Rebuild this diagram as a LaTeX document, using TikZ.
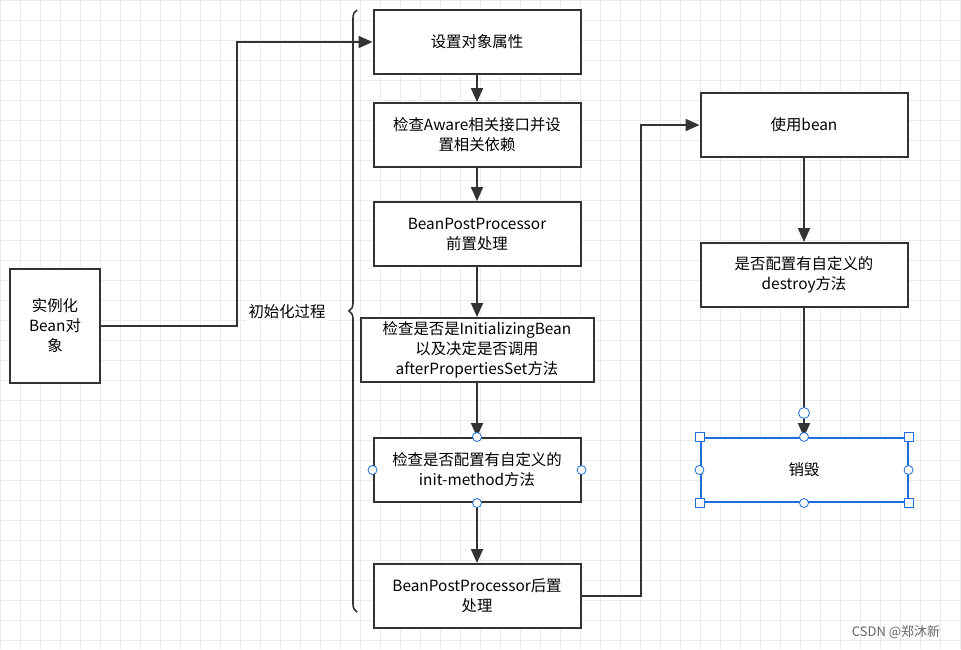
\documentclass[tikz,border=0pt]{standalone}
\usepackage{fontspec}
\setmainfont{Noto Sans CJK SC}
\usetikzlibrary{positioning,decorations.pathreplacing,arrows.meta}
\definecolor{ink}{HTML}{333333}
\definecolor{sel}{HTML}{1E6FD9}
\begin{document}
\begin{tikzpicture}[x=0.5pt, y=-0.5pt,
  box/.style={draw=ink, line width=1pt, fill=white, align=center, font=\fontsize{7.7}{10}\selectfont,
    minimum width=103.5pt, minimum height=32pt, inner sep=1pt},
  arr/.style={-{Triangle[length=7pt,width=6pt]}, draw=ink, line width=1pt},
  handle/.style={draw=sel, fill=white, line width=0.4pt, inner sep=0pt}]

  \useasboundingbox (0,0) rectangle (961,649);
  \fill[white] (0,0) rectangle (961,649);
  % background grid
  \foreach \gx in {0,20,...,960} \draw[black!8, line width=0.3pt] (\gx,0) -- (\gx,649);
  \foreach \gy in {0,20,...,640} \draw[black!8, line width=0.3pt] (0,\gy) -- (961,\gy);

  % left node
  \node[box, minimum width=45pt, minimum height=57pt] (inst) at (55,326) {实例化\\Bean对\\象};

  % init column
  \node[box] (set)   at (477,42)  {设置对象属性};
  \node[box] (aware) at (477,135) {检查Aware相关接口并设\\置相关依赖};
  \node[box] (pre)   at (477,234) {BeanPostProcessor\\前置处理};
  \node[box, minimum width=116.5pt] (ib) at (477,350) {检查是否是InitializingBean\\以及决定是否调用\\afterPropertiesSet方法};
  \node[box] (im)    at (477,470) {检查是否配置有自定义的\\init-method方法};
  \node[box] (post)  at (477,596) {BeanPostProcessor后置\\处理};

  % right column
  \node[box] (use)  at (804,125) {使用bean};
  \node[box] (dm)   at (804,275) {是否配置有自定义的\\destroy方法};
  \node[box, draw=sel] (kill) at (804,470) {销毁};

  % brace
  \draw[ink, line width=0.8pt, decorate, decoration={brace, amplitude=4pt}] (357,612) -- (357,10);
  \node[font=\fontsize{7.7}{10}\selectfont, fill=white, inner sep=1pt] (lbl) at (287,312) {初始化过程};

  % connectors
  \draw[arr] (inst.east) -- (237,326) |- (set.west);
  \draw[arr] (set) -- (aware);
  \draw[arr] (aware) -- (pre);
  \draw[arr] (pre) -- (ib);
  \draw[arr] (ib) -- (im);
  \draw[arr] (im) -- (post);
  \draw[arr] (post.east) -- (641,596) |- (use.west);
  \draw[arr] (use) -- (dm);
  \draw[arr] (dm) -- (kill);

  % selection handles
  \foreach \p in {north west,north east,south west,south east}
    \node[handle, minimum size=4.5pt] at (kill.\p) {};
  \foreach \p in {north,south,east,west}
    \node[handle, circle, minimum size=4.5pt] at (kill.\p) {};
  \node[handle, circle, minimum size=5.5pt] at (804,413) {};
  \foreach \p in {north,south,east,west}
    \node[handle, circle, minimum size=4.5pt] at (im.\p) {};
  \node[font=\fontsize{6.5}{8}\selectfont, text=black!60] (csdn) at (896,632) {CSDN @郑沐新};
\end{tikzpicture}
\end{document}
